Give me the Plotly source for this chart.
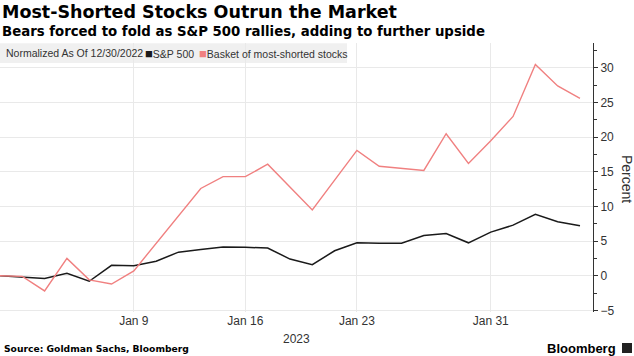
import plotly.graph_objects as go

# ---- data ----
dates = [
    "2022-12-30", "2023-01-02", "2023-01-03", "2023-01-04", "2023-01-05", "2023-01-06",
    "2023-01-09", "2023-01-10", "2023-01-11", "2023-01-12", "2023-01-13",
    "2023-01-16", "2023-01-17", "2023-01-18", "2023-01-19", "2023-01-20",
    "2023-01-23", "2023-01-24", "2023-01-25", "2023-01-26", "2023-01-27",
    "2023-01-30", "2023-01-31", "2023-02-01", "2023-02-02", "2023-02-03",
    "2023-02-06",
]
sp500 = [0, -0.15, -0.4, 0.35, -0.8, 1.5, 1.45, 2.1, 3.4, 3.8, 4.15, 4.1, 4.0, 2.4, 1.6,
         3.6, 4.75, 4.7, 4.7, 5.8, 6.1, 4.75, 6.3, 7.3, 8.85, 7.8, 7.2]
shorted = [0, -0.1, -2.2, 2.5, -0.6, -1.2, 0.7, 4.7, 8.7, 12.6, 14.3, 14.3, 16.1, 12.8, 9.5,
           13.8, 18.1, 15.8, 15.5, 15.2, 20.5, 16.2, 19.5, 23.0, 30.5, 27.4, 25.6]
x_tick_vals = ["2023-01-09", "2023-01-16", "2023-01-23", "2023-01-31"]
x_tick_text = ["Jan 9", "Jan 16", "Jan 23", "Jan 31"]

title = "Most-Shorted Stocks Outrun the Market"
subtitle = "Bears forced to fold as S&P 500 rallies, adding to further upside"
legend_note = "Normalized As Of 12/30/2022"
names = ["S&P 500", "Basket of most-shorted stocks"]
source = "Source: Goldman Sachs, Bloomberg"

# ---- style ----
BLACK = "#1a1a1a"
RED = "#f08080"
GRID = "#e9e9e9"
TXT = "#333333"
SANS = "Liberation Sans, Arial, sans-serif"
BOLD = "DejaVu Sans, Verdana, sans-serif"

W, H = 634, 356
L, R, T, B = 0, 41, 43, 44
ph = H - T - B
pw = W - L - R

def py(pix):  # pixel y -> paper y
    return (H - B - pix) / ph

def px(pix):  # pixel x -> paper x
    return (pix - L) / pw

fig = go.Figure()
fig.add_trace(go.Scatter(x=dates, y=sp500, mode="lines", name=names[0],
                         line=dict(color=BLACK, width=1.5), showlegend=False))
fig.add_trace(go.Scatter(x=dates, y=shorted, mode="lines", name=names[1],
                         line=dict(color=RED, width=1.4), showlegend=False))

fig.update_layout(
    width=W, height=H,
    margin=dict(l=L, r=R, t=T, b=B),
    paper_bgcolor="white", plot_bgcolor="white",
    font=dict(family=SANS, color=TXT, size=12),
    showlegend=False,
)
fig.update_xaxes(
    type="date",
    range=["2022-12-30", "2023-02-06 14:00"],
    rangebreaks=[dict(bounds=["sat", "mon"])],
    tickvals=x_tick_vals, ticktext=x_tick_text,
    showgrid=True, gridcolor=GRID, gridwidth=1,
    showline=False, ticks="", zeroline=False,
    tickfont=dict(family=SANS, size=12, color=TXT),
)
fig.update_yaxes(
    side="right", range=[-5.24, 33.6],
    tick0=0, dtick=5,
    showgrid=True, gridcolor=GRID, gridwidth=1, zeroline=False,
    showline=True, linecolor="#333333", linewidth=1,
    ticks="outside", ticklen=4, tickcolor="#333333",
    minor=dict(dtick=2.5, ticks="outside", ticklen=3, tickcolor="#333333", showgrid=False),
    tickfont=dict(family=SANS, size=12, color=TXT),
)

# legend box
fig.add_shape(type="rect", xref="paper", yref="paper",
              x0=px(0), x1=px(347), y0=py(63), y1=py(43.3),
              fillcolor="#f0f0f0", line=dict(width=0), layer="below")
LEG_FONT = dict(family=SANS, size=10.5, color=TXT)
SQ = "<span style='color:{};font-size:13px'>■</span>"
annotations = [
    dict(text=f"<b>{title}</b>", x=px(0), y=py(12), xanchor="left", yanchor="middle",
         font=dict(family=BOLD, size=17.5, color="#000000")),
    dict(text=f"<b>{subtitle}</b>", x=px(0), y=py(31), xanchor="left", yanchor="middle",
         font=dict(family=BOLD, size=13.3, color="#000000")),
    dict(text=legend_note, x=px(4), y=py(53.5), xanchor="left", yanchor="middle", font=LEG_FONT),
    dict(text=SQ.format(BLACK) + names[0], x=px(143), y=py(53.5),
         xanchor="left", yanchor="middle", font=LEG_FONT),
    dict(text=SQ.format(RED) + names[1], x=px(197), y=py(53.5),
         xanchor="left", yanchor="middle", font=LEG_FONT),
    dict(text="2023", x=0.5, y=py(339), xanchor="center", yanchor="middle",
         font=dict(family=SANS, size=12, color=TXT)),
    dict(text="Percent", x=px(627), y=py(179), xanchor="center", yanchor="middle",
         textangle=90, font=dict(family=SANS, size=14, color=TXT)),
    dict(text=f"<b>{source}</b>", x=px(2), y=py(349), xanchor="left", yanchor="middle",
         font=dict(family=BOLD, size=9.2, color="#000000")),
    dict(text="<b>Bloomberg</b>", x=px(618), y=py(348), xanchor="right", yanchor="middle",
         font=dict(family=SANS, size=13, color="#000000")),
]
for a in annotations:
    a.update(xref="paper", yref="paper", showarrow=False)
fig.update_layout(annotations=annotations)
# small logo mark
fig.add_shape(type="rect", xref="paper", yref="paper",
              x0=px(622), x1=px(632), y0=py(353), y1=py(343),
              fillcolor="#222222", line=dict(width=0))

fig.write_html("out.html", config={"displayModeBar": False},
               post_script="document.body.style.margin='0';")
